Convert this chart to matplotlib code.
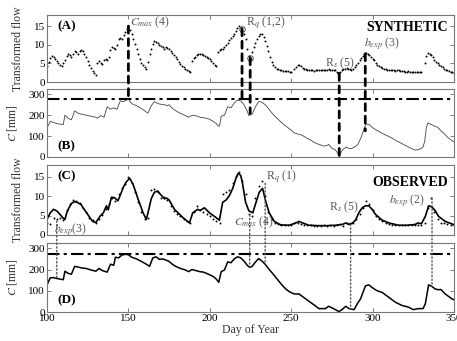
import numpy as np
import matplotlib
matplotlib.use('Agg')
import matplotlib.pyplot as plt
from matplotlib.patches import ConnectionPatch

plt.rcParams['font.family'] = ['Liberation Serif', 'DejaVu Serif']
plt.rcParams['mathtext.fontset'] = 'stix'
plt.rcParams['font.size'] = 8

nan = np.nan

# (A) synthetic transformed flow, one value per day from day 100 to 350
days_a = np.arange(100, 351)
flow_a = [4.2, 5.5, 6.5, 7.0, 6.8, 6.2, 5.6, 5.0, 4.6, 4.3,
          5.2, 6.0, 7.0, 7.6, 7.3, 6.8, 7.5, 8.2, 8.0, 7.6,
          8.3, 8.6, 8.4, 7.6, 6.6, 5.6, 4.7, 3.8, 3.0, 2.5,
          2.0, 5.0, 5.6, 5.2, 4.8, 5.8, 6.2, 5.8, 6.8, 8.5,
          9.5, 9.2, 8.8, 10.0, 11.5, 11.8, 11.5, 12.5, 13.5, 14.2,
          15.0, 14.0, 12.8, 11.5, 10.2, 8.8, 7.5, 6.3, 5.2, 4.5,
          4.0, 3.4, 5.5, 7.5, 9.0, 10.3, 11.0, 10.8, 10.4, 10.0,
          9.6, 9.3, 9.0, 9.3, 9.2, 8.8, 8.3, 7.8, 7.3, 6.7,
          6.1, 5.5, 4.8, 4.3, 3.9, 3.5, 3.2, 2.9, 2.7, 5.6,
          6.4, 6.8, 7.2, 7.5, 7.6, 7.5, 7.3, 7.0, 6.8, 6.5,
          6.1, 5.6, 5.0, 4.6, 4.2, 8.0, 8.7, 8.8, 9.0, 9.5,
          10.0, 10.6, 11.2, 11.8, 12.4, 13.0, 13.8, 14.6, 15.0, 14.5,
          13.8, 12.8, 11.5, 9.0, 7.0, 6.3, 8.0, 9.3, 10.5, 11.5,
          12.3, 13.0, 12.8, 12.2, 11.0, 9.6, 8.2, 6.8, 5.5, 4.6,
          4.0, 3.6, 3.4, 3.2, 3.1, 3.0, 3.0, 2.9, 2.9, 2.8,
          2.8, nan, 3.4, 4.0, 4.5, 4.6, 4.2, 3.8, 3.6, 3.4,
          3.3, 3.2, 3.1, 3.1, 3.0, 3.1, 3.2, 3.1, 3.1, 3.2,
          3.3, 3.2, 3.3, 3.4, 3.3, 3.3, 3.2, 3.1, 2.8, 2.3,
          2.7, 3.2, 3.5, 3.6, 3.7, 3.6, 3.4, 3.3, 3.6, 4.0,
          4.5, 5.0, 5.8, 6.5, 7.0, 7.5, 7.7, 7.6, 7.3, 6.8,
          6.3, 5.8, 5.2, 4.7, 4.3, 4.0, 3.7, 3.5, 3.4, 3.3,
          3.2, 3.2, 3.1, 3.1, 3.0, 3.1, 3.1, 3.0, 2.9, 2.9,
          2.8, 2.8, 2.9, 2.8, 2.7, 2.7, 2.6, 2.6, 2.6, 2.6,
          2.6, nan, 5.0, 7.0, 7.8, 7.6, 7.2, 6.6, 6.0, 5.5,
          5.0, 4.6, 4.2, 3.9, 3.6, 3.3, 3.1, 2.9, 2.7, 2.6, 2.5]

# (B) synthetic storage C [mm]
days_b = [100, 102, 104, 106, 108, 110, 111, 113, 115, 117, 119, 121, 124, 127,
          130, 131, 133, 135, 137, 139, 141, 143, 145, 147, 150, 152, 155, 158,
          161, 162, 164, 166, 168, 170, 172, 174, 175, 177, 179, 181, 183, 185,
          187, 188, 190, 192, 194, 196, 198, 200, 202, 204, 205, 206, 207, 209,
          211, 213, 215, 217, 219, 221, 223, 224, 226, 228, 230, 232, 234, 236,
          238, 240, 242, 244, 246, 248, 250, 252, 254, 256, 258, 260, 262, 264,
          266, 268, 270, 272, 273, 275, 277, 278, 279.5, 281, 282, 284, 285, 287,
          289, 291, 293, 295, 296, 298, 300, 302, 304, 306, 308, 310, 312, 314,
          316, 318, 320, 322, 324, 326, 328, 330, 331, 332, 333, 334, 336, 338,
          340, 342, 344, 346, 348, 350]
c_syn = [138, 170, 165, 160, 157, 155, 200, 185, 178, 220, 210, 205, 200, 195,
         190, 185, 198, 190, 240, 228, 235, 228, 268, 265, 276, 255, 245, 232,
         215, 210, 245, 265, 255, 252, 250, 245, 250, 232, 222, 212, 205, 198,
         190, 195, 200, 196, 190, 188, 185, 180, 170, 160, 150, 148, 195, 200,
         240, 235, 258, 272, 268, 250, 220, 198, 205, 240, 265, 262, 250, 232,
         212, 195, 180, 165, 152, 140, 128, 115, 110, 106, 98, 88, 81, 70,
         63, 58, 52, 55, 60, 42, 35, 25, 2, 28, 38, 48, 42, 40,
         48, 60, 95, 140, 158, 155, 140, 130, 122, 112, 105, 98, 90, 80,
         72, 64, 56, 48, 40, 33, 35, 42, 48, 75, 140, 163, 155, 148,
         142, 125, 112, 95, 82, 72]

# (C) observed transformed flow: simulated line and observed dots
days_c_sim = [100, 102, 104, 106, 108, 110, 111, 112, 113, 115, 117, 119, 121, 122,
              125, 128, 130, 132.5, 134.6, 136.5, 137.6, 139.6, 141.5, 143.6, 145.7,
              147, 148.8, 150.8, 152.9, 155.9, 159, 161, 162.5, 164, 166, 168, 170,
              172.2, 173.5, 175, 178.3, 183.4, 187.5, 189.5, 192.6, 194, 196.7,
              199.8, 202.8, 205.9, 207.9, 210, 212, 214, 216, 217.5, 219, 220, 222,
              224, 226.4, 228.4, 230.4, 232.4, 234.5, 236.5, 239.6, 243.6, 248.7,
              252.8, 254.8, 257, 261, 267, 272, 277, 281.4, 283.5, 285.5, 287.5,
              289.5, 291.5, 293.6, 295.6, 297.7, 299.7, 301.8, 305.9, 310, 316, 321,
              326, 328, 330, 332.4, 334.4, 336.5, 338.5, 340.5, 344.6, 349.7]
flow_c_sim = [4.0, 5.7, 6.6, 6.2, 5.3, 4.3, 4.0, 5.5, 6.6, 8.1, 8.6, 8.3, 7.8, 7.1,
              5.3, 3.5, 3.2, 4.8, 5.7, 7.5, 6.5, 9.7, 9.6, 8.8, 11.0,
              12.4, 13.7, 14.6, 13.0, 9.3, 5.7, 4.0, 6.5, 9.3, 11.0, 11.3, 10.3,
              9.3, 9.5, 9.0, 6.6, 4.5, 3.1, 5.7, 6.6, 6.3, 7.0,
              5.7, 4.8, 3.8, 8.4, 9.0, 10.1, 11.9, 14.5, 15.9, 15.3, 13.5, 8.4,
              6.2, 5.7, 8.4, 11.0, 12.0, 8.4, 5.7, 3.5, 2.6, 2.5,
              3.1, 3.5, 3.1, 2.5, 2.4, 2.4, 2.5, 2.7, 3.1, 2.7, 3.0,
              3.8, 5.7, 7.0, 7.5, 7.5, 6.6, 5.3, 3.8, 3.1, 2.5, 2.5,
              2.7, 3.1, 2.9, 4.8, 7.5, 7.2, 6.2, 4.8, 3.5, 2.7]
days_c_obs = np.arange(100, 351, 2)
flow_c_obs = [3.0, 2.8, 4.5, 4.0, 4.5, 3.8, 6.5, 8.0, 9.0, 8.8,
              8.2, 7.0, 5.8, 4.5, 3.8, 3.0, 4.2, 5.2, 6.8, 8.0,
              9.5, 8.8, 10.5, 12.0, 13.2, 14.8, 13.5, 11.0, 8.5, 6.0,
              4.2, 4.5, 11.5, 11.8, 11.0, 9.6, 9.8, 9.0, 7.5, 6.2,
              5.5, 5.0, 4.2, 3.5, 3.2, 6.0, 7.5, 6.5, 6.0, 5.5,
              4.8, 4.0, 3.5, 3.2, 10.5, 11.0, 11.5, 13.5, 15.2, 16.2,
              14.0, 10.5, 5.5, 5.0, 9.5, 12.5, 13.8, 10.0, 6.0, 4.0,
              3.2, 2.8, 2.6, 2.6, 2.5, 2.5, 3.0, 3.0, 2.8, 2.6,
              2.5, 2.5, 2.4, 2.4, 2.4, 2.5, 2.4, 2.5, 2.4, 2.5,
              2.8, 2.4, 3.0, 3.2, 3.0, 4.0, 5.5, 7.0, 8.8, 8.0,
              6.5, 5.0, 4.0, 3.5, 3.0, 2.8, 2.6, 2.5, 2.5, 2.5,
              2.6, 2.5, 2.5, 2.7, 2.7, 2.6, 3.0, 7.0, 9.5, 5.8,
              4.0, 3.2, 3.0, 2.8, 2.6, 2.5]

# (D) observed storage C [mm]
days_d = [100, 102, 104, 106, 108, 110, 111, 113, 115, 117, 119, 121, 124, 127,
          130, 132, 134, 136, 137, 139, 141, 142, 144, 146, 148, 150, 152, 155,
          158, 161, 163, 165, 167, 169, 171, 173, 175, 177, 179, 182, 185, 187,
          189, 191, 194, 196, 198, 200, 202, 204, 205.5, 207, 209, 211, 213, 215,
          217, 219, 221, 223, 224.5, 226, 228, 230, 232, 234, 236.5, 239, 241.5,
          244, 246.7, 249, 251.8, 254.8, 256, 258.9, 261, 263, 265, 267, 271,
          273, 276, 279.3, 281, 283.5, 285.5, 288.6, 290.6, 292.6, 295.6, 297.7,
          299.7, 302.8, 305.9, 310, 314, 318, 322, 325, 328, 331, 332.4, 334.4,
          336.5, 338.5, 340.5, 342, 344.6, 348.7, 350]
c_obs = [128, 161, 162, 158, 155, 152, 192, 182, 178, 215, 212, 208, 205, 198,
         192, 205, 195, 190, 188, 225, 220, 258, 255, 268, 272, 270, 258, 250,
         238, 225, 215, 255, 260, 248, 250, 245, 238, 225, 215, 205, 198, 190,
         200, 196, 190, 188, 182, 175, 168, 155, 140, 190, 198, 236, 232, 250,
         260, 255, 240, 220, 210, 215, 235, 252, 240, 225, 200, 178, 154,
         130, 108, 95, 85, 85, 78, 62, 50, 39, 28, 16, 16,
         27, 16, 2, 10, 27, 16, 11, 39, 62, 123, 128,
         115, 100, 92, 69, 46, 31, 23, 11, 16, 16, 39, 128,
         120, 108, 105, 106, 85, 62, 58]

c_threshold = 275

# signature points: (day, flow, C) for the dashed/dotted links
syn_marks = [(150, 15.0, 276), (219.8, 14.3, 276), (224.8, 6.5, 208),
             (279.5, 2.3, 0), (295.5, 7.6, 125)]
obs_marks = [(106, 3.6, 160), (224.5, 5.2, 212), (234, 13.3, 232),
             (286.5, 2.8, 12), (336.5, 9.5, 120)]

W, H = 457, 341
fig = plt.figure(figsize=(W / 100, H / 100), dpi=100)
left, width = 47 / W, (454 - 47) / W
boxes = [(15, 82), (89, 157), (165, 235), (243, 312)]
axs = [fig.add_axes([left, 1 - b / H, width, (b - t) / H]) for t, b in boxes]
axA, axB, axC, axD = axs

grey = '#555555'
for ax in axs:
    ax.set_xlim(100, 350)
    ax.set_xticks([100, 150, 200, 250, 300, 350])
    ax.tick_params(direction='in', top=True, right=True, length=3,
                   width=0.6, color='#666666', labelsize=8, pad=1.5)
    for s in ax.spines.values():
        s.set_color('#777777')
        s.set_linewidth(0.8)
    if ax is not axD:
        ax.tick_params(labelbottom=False)

for ax in (axA, axC):
    ax.set_ylim(0, 18)
    ax.set_yticks([0, 5, 10, 15])
    ax.set_ylabel('Transformed flow', color='#333333', fontsize=8.5, labelpad=7)
for ax in (axB, axD):
    ax.set_ylim(0, 325)
    ax.set_yticks([0, 100, 200, 300])
    ax.set_ylabel('$C$ [mm]', color='#333333', fontsize=8.5, labelpad=7)
    ax.axhline(c_threshold, color='k', lw=1.5, dashes=[6, 2, 1.5, 2])

axA.plot(days_a, flow_a, 'o', color='k', ms=1.4, mew=0)
axB.plot(days_b, c_syn, color='#444444', lw=0.6)
axC.plot(days_c_sim, flow_c_sim, color='k', lw=1.2)
axC.plot(days_c_obs, flow_c_obs, 'o', color='k', ms=1.4, mew=0)
axD.plot(days_d, c_obs, color='k', lw=1.1)

for d, f, c in syn_marks[1:3]:
    axA.plot(d, f, 'o', mfc='none', mec='#555555', ms=4, mew=0.7)
for d, f, c in syn_marks:
    con = ConnectionPatch(xyA=(d, f), coordsA=axA.transData,
                          xyB=(d, c), coordsB=axB.transData,
                          color='k', lw=2, ls=(0, (2.5, 2)))
    fig.add_artist(con)
for d, f, c in obs_marks:
    con = ConnectionPatch(xyA=(d, f), coordsA=axC.transData,
                          xyB=(d, c), coordsB=axD.transData,
                          color='#555555', lw=1, ls=':')
    fig.add_artist(con)

for ax, lab, y in [(axA, '(A)', 0.92), (axB, '(B)', 0.25), (axC, '(C)', 0.92), (axD, '(D)', 0.25)]:
    ax.text(0.025, y, lab, transform=ax.transAxes, va='top', ha='left',
            fontweight='bold', fontsize=9.5)

axA.text(0.985, 0.91, 'SYNTHETIC', transform=axA.transAxes, ha='right',
         va='top', fontweight='bold', fontsize=10)
axC.text(0.985, 0.85, 'OBSERVED', transform=axC.transAxes, ha='right',
         va='top', fontweight='bold', fontsize=10)

txt = dict(color=grey, fontsize=8.5)
axA.text(151, 15.2, r'$C_{max}$ (4)', **txt)
axA.text(222, 15.2, r'R$_q$ (1,2)', **txt)
axA.text(271, 4.3, r'R$_s$ (5)', **txt)
axA.text(295, 9.6, r'$b_{exp}$ (3)', **txt)
axC.text(234.5, 14.3, r'R$_q$ (1)', **txt)
axC.text(104.5, 0.6, r'$b_{exp}$(3)', **txt)
axC.text(215, 2.4, r'$C_{max}$ (4)', **txt)
axC.text(273, 6.3, r'R$_s$ (5)', **txt)
axC.text(310, 8.2, r'$b_{exp}$ (2)', **txt)

axD.set_xlabel('Day of Year', color='#333333', labelpad=1, fontsize=8.5)
fig.align_ylabels(axs)

plt.savefig('out.png', dpi=100)
